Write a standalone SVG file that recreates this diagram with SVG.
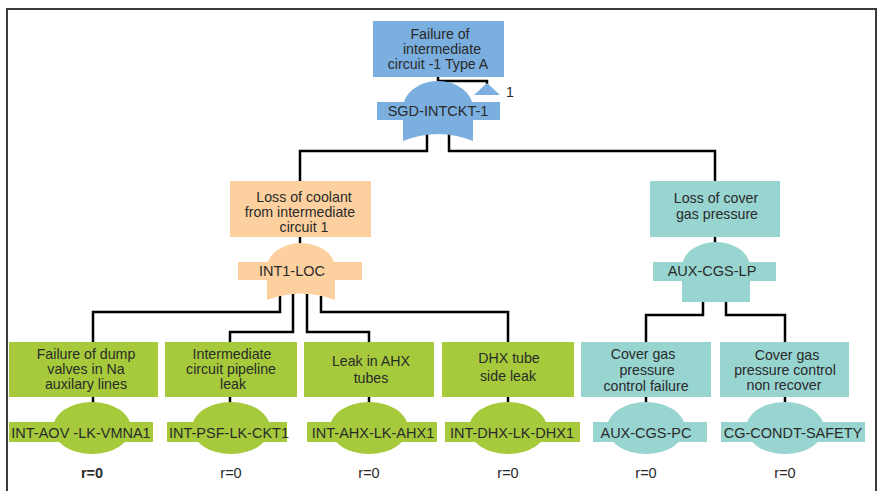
<svg xmlns="http://www.w3.org/2000/svg" width="879" height="491" viewBox="0 0 879 491">
  <style>
    text { font-family: "Liberation Sans", Arial, sans-serif; fill: #2a2a2a; text-anchor: middle; }
    .t { font-size: 14.2px; }
    .lab { font-size: 14.5px; }
    .r { font-size: 14.5px; }
    .blue { fill: #7aafdf; }
    .orange { fill: #fdd19f; }
    .green { fill: #a6ca3b; }
    .teal { fill: #98d5d1; }
    .wire { fill: none; stroke: #000; stroke-width: 2.5; stroke-linejoin: miter; }
    .frame { fill: none; stroke: #3a3a3a; stroke-width: 2; }
  </style>

  <!-- outer frame (open at the bottom) -->
  <path class="frame" d="M7,491 V9 H876 V491"/>

  <!-- connectors -->
  <g id="connectors">
    <path class="wire" d="M438,76 V81 H487 V84" stroke-width="2"/>
    <path class="wire" d="M427,134 V151 H300 V181"/>
    <path class="wire" d="M449,134 V151 H715 V181"/>
    <path class="wire" d="M300,237 V244"/>
    <path class="wire" d="M715,237 V243"/>
    <path class="wire" d="M280,296 V312 H93 V342"/>
    <path class="wire" d="M293,294 V332 H230 V342"/>
    <path class="wire" d="M307,294 V332 H369 V342"/>
    <path class="wire" d="M321,296 V312 H508 V342"/>
    <path class="wire" d="M703,302 V315 H646 V342"/>
    <path class="wire" d="M726,302 V315 H785 V342"/>
    <path class="wire" d="M93,397 V403"/>
    <path class="wire" d="M230,397 V403"/>
    <path class="wire" d="M369,397 V403"/>
    <path class="wire" d="M508,397 V403"/>
    <path class="wire" d="M646,397 V403"/>
    <path class="wire" d="M785,397 V403"/>
  </g>

  <!-- top event -->
  <g id="sgd-intckt-1">
    <rect class="blue" x="373" y="21" width="131" height="56"/>
    <text class="t" x="440" y="39">Failure of</text>
    <text class="t" x="442" y="54">intermediate</text>
    <text class="t" x="438" y="69">circuit -1 Type A</text>
    <path class="blue" d="M403,141 V108 A35,27 0 0 1 473,108 V141 Q438,127 403,141 Z"/>
    <rect class="blue" x="377" y="102" width="123" height="18"/>
    <text class="lab" x="438" y="116">SGD-INTCKT-1</text>
    <polygon class="blue" points="487,83 500,95 474,95"/>
    <text class="t" x="510" y="97">1</text>
  </g>

  <!-- intermediate events -->
  <g id="int1-loc">
    <rect class="orange" x="230" y="181" width="141" height="56"/>
    <text class="t" x="304" y="202">Loss of coolant</text>
    <text class="t" x="300" y="217">from intermediate</text>
    <text class="t" x="304" y="232">circuit 1</text>
    <path class="orange" d="M267,300 V268 A34,25 0 0 1 335,268 V300 Q301,287 267,300 Z"/>
    <rect class="orange" x="238" y="262" width="124" height="18"/>
    <text class="lab" x="292" y="276">INT1-LOC</text>
  </g>

  <g id="aux-cgs-lp">
    <rect class="teal" x="650" y="181" width="130" height="56"/>
    <text class="t" x="716" y="203">Loss of cover</text>
    <text class="t" x="717" y="219">gas pressure</text>
    <path class="teal" d="M682,302 V267 A34,25 0 0 1 750,267 V302 Z"/>
    <rect class="teal" x="653" y="262" width="123" height="19"/>
    <text class="lab" x="712" y="276">AUX-CGS-LP</text>
  </g>

  <!-- basic events -->
  <g id="int-aov-lk-vmna1">
    <rect class="green" x="9" y="342" width="149" height="55"/>
    <text class="t" x="86" y="359">Failure of dump</text>
    <text class="t" x="86" y="374">valves in Na</text>
    <text class="t" x="86" y="389">auxilary lines</text>
    <ellipse class="green" cx="92" cy="428" rx="39" ry="26"/>
    <rect class="green" x="9" y="422" width="144" height="20"/>
    <text class="lab" x="81" y="438">INT-AOV -LK-VMNA1</text>
    <text class="r" x="92" y="478" font-weight="bold">r=0</text>
  </g>

  <g id="int-psf-lk-ckt1">
    <rect class="green" x="165" y="342" width="132" height="55"/>
    <text class="t" x="232" y="359">Intermediate</text>
    <text class="t" x="231" y="374">circuit pipeline</text>
    <text class="t" x="233" y="389">leak</text>
    <ellipse class="green" cx="231" cy="428" rx="39" ry="26"/>
    <rect class="green" x="167" y="422" width="120" height="20"/>
    <text class="lab" x="229" y="438">INT-PSF-LK-CKT1</text>
    <text class="r" x="231" y="478">r=0</text>
  </g>

  <g id="int-ahx-lk-ahx1">
    <rect class="green" x="304" y="342" width="130" height="55"/>
    <text class="t" x="371" y="366">Leak in AHX</text>
    <text class="t" x="371" y="383">tubes</text>
    <ellipse class="green" cx="369" cy="428" rx="39" ry="26"/>
    <rect class="green" x="307" y="422" width="130" height="20"/>
    <text class="lab" x="373" y="438">INT-AHX-LK-AHX1</text>
    <text class="r" x="369" y="478">r=0</text>
  </g>

  <g id="int-dhx-lk-dhx1">
    <rect class="green" x="442" y="342" width="132" height="55"/>
    <text class="t" x="509" y="363">DHX tube</text>
    <text class="t" x="508" y="381">side leak</text>
    <ellipse class="green" cx="508" cy="428" rx="39" ry="26"/>
    <rect class="green" x="445" y="422" width="135" height="20"/>
    <text class="lab" x="512" y="438">INT-DHX-LK-DHX1</text>
    <text class="r" x="508" y="478">r=0</text>
  </g>

  <g id="aux-cgs-pc">
    <rect class="teal" x="581" y="342" width="130" height="55"/>
    <text class="t" x="643" y="359">Cover gas</text>
    <text class="t" x="647" y="375">pressure</text>
    <text class="t" x="646" y="391">control failure</text>
    <ellipse class="teal" cx="646" cy="428" rx="39" ry="26"/>
    <rect class="teal" x="593" y="422" width="114" height="20"/>
    <text class="lab" x="646" y="438">AUX-CGS-PC</text>
    <text class="r" x="646" y="478">r=0</text>
  </g>

  <g id="cg-condt-safety">
    <rect class="teal" x="720" y="342" width="129" height="55"/>
    <text class="t" x="787" y="360">Cover gas</text>
    <text class="t" x="785" y="375">pressure control</text>
    <text class="t" x="784" y="390">non recover</text>
    <ellipse class="teal" cx="785" cy="428" rx="39" ry="26"/>
    <rect class="teal" x="721" y="422" width="144" height="20"/>
    <text class="lab" x="793" y="438">CG-CONDT-SAFETY</text>
    <text class="r" x="785" y="478">r=0</text>
  </g>
</svg>
